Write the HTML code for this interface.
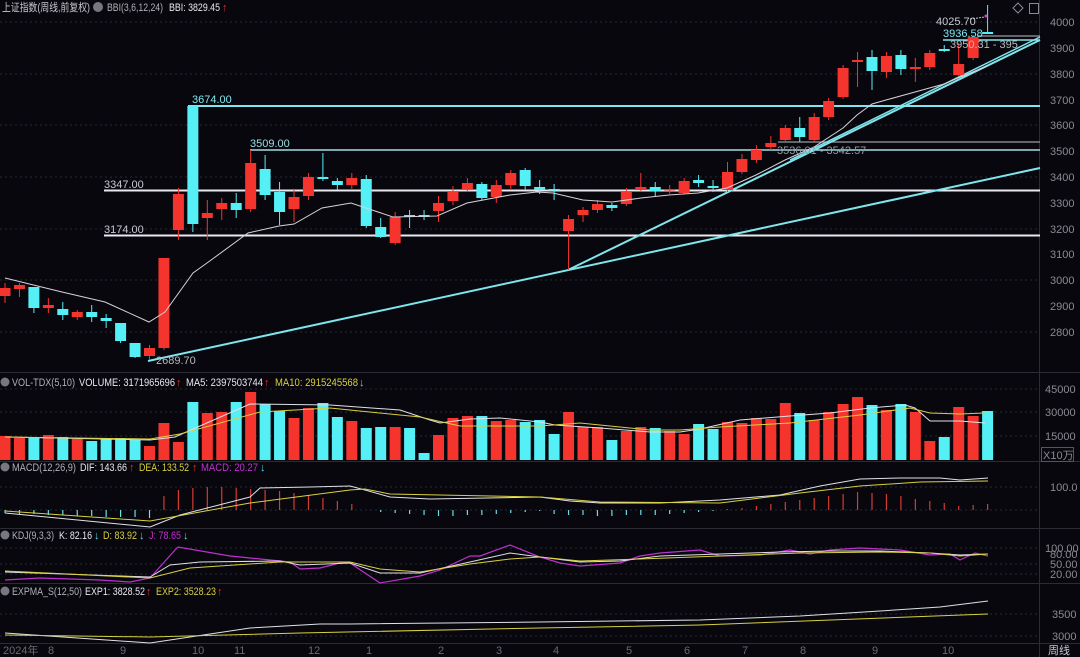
<!DOCTYPE html>
<html><head><meta charset="utf-8"><style>
html,body{margin:0;padding:0;background:#07070d;}
svg{display:block;font-family:"Liberation Sans","Noto Sans CJK SC",sans-serif;}
</style></head><body>
<svg id="s" width="1080" height="657" viewBox="0 0 1080 657" xmlns="http://www.w3.org/2000/svg">
<rect width="1080" height="657" fill="#07070d"/>
<g id="grid" stroke="#2a2a33" stroke-dasharray="2,3" stroke-width="1">
<line x1="0" y1="22" x2="1040" y2="22"/><line x1="0" y1="74" x2="1040" y2="74"/><line x1="0" y1="125" x2="1040" y2="125"/>
<line x1="0" y1="177" x2="1040" y2="177"/><line x1="0" y1="229" x2="1040" y2="229"/><line x1="0" y1="280" x2="1040" y2="280"/><line x1="0" y1="332" x2="1040" y2="332"/>
<line x1="0" y1="412" x2="1040" y2="412"/><line x1="0" y1="436" x2="1040" y2="436"/><line x1="0" y1="389" x2="1040" y2="389"/>
<line x1="0" y1="487" x2="1040" y2="487"/><line x1="0" y1="510" x2="1040" y2="510"/>
<line x1="0" y1="548" x2="1040" y2="548"/><line x1="0" y1="564" x2="1040" y2="564"/><line x1="0" y1="574" x2="1040" y2="574"/>
<line x1="0" y1="614" x2="1040" y2="614"/><line x1="0" y1="636" x2="1040" y2="636"/>
</g>
<g stroke="#2c2c36" stroke-width="1">
<line x1="0" y1="372.5" x2="1080" y2="372.5"/><line x1="0" y1="461.5" x2="1080" y2="461.5"/>
<line x1="0" y1="528.5" x2="1080" y2="528.5"/><line x1="0" y1="583.5" x2="1080" y2="583.5"/>
<line x1="0" y1="643.5" x2="1080" y2="643.5"/><line x1="1039.5" y1="0" x2="1039.5" y2="657"/>
</g>
<g stroke-width="2">
<line x1="188" y1="106" x2="1040" y2="106" stroke="#7fe6ee"/>
<line x1="250" y1="150" x2="1040" y2="150" stroke="#9fdde6" stroke-width="1.5"/>
<line x1="104" y1="190.5" x2="1040" y2="190.5" stroke="#e8e8ee"/>
<line x1="104" y1="235.5" x2="1040" y2="235.5" stroke="#e8e8ee"/>
<line x1="778" y1="142" x2="1040" y2="142" stroke="#9a9aa2" stroke-width="1.2"/>
<line x1="943" y1="40" x2="1040" y2="40" stroke="#7fe6ee" stroke-width="1.5"/>
<line x1="977" y1="36" x2="1040" y2="36" stroke="#9a9aa2" stroke-width="1.2"/>
<line x1="148" y1="361" x2="1040" y2="168" stroke="#7fe6ee"/>
<line x1="568" y1="270" x2="1040" y2="40" stroke="#7fe6ee"/>
<line x1="790" y1="160" x2="1040" y2="37" stroke="#7fe6ee" stroke-width="1.5"/>
</g>
<g id="candles"></g>
<polyline fill="none" stroke="#d8d0d8" stroke-width="1" points="5,278 62,292 105,302 149,322 165,312 193,273 207,263 248,233 279,226 294,224 322,208 351,203 393,217 437,216 467,203 510,195 537,192 553,193 583,200 612,202 641,198 669,195 698,193 727,188 756,175 785,160 814,147 843,128 857,115 872,104 886,100 915,92 944,84 958,78 987,66"/>
<g font-size="11" fill="#c8c8d0">
<text x="192" y="103" fill="#7fe6ee">3674.00</text>
<text x="250" y="147" fill="#9fdde6">3509.00</text>
<text x="104" y="188">3347.00</text>
<text x="104" y="233">3174.00</text>
<text x="156" y="364" fill="#b8b8c0">2689.70</text>
<text x="777" y="154" fill="#9a9aa2">3536.01 - 3542.57</text>
<text x="936" y="25">4025.70</text>
<line x1="970" y1="19" x2="985" y2="17" stroke="#c8c8d0" stroke-dasharray="2,1"/>
<circle cx="986" cy="16" r="1.5" fill="#d040d0"/>
<text x="943" y="37" fill="#7fe6ee">3936.58</text>
<text x="950" y="48" fill="#b8b8c0">3950.31 - 395</text>
</g>
<g font-size="11" fill="#8a8a92">
<text x="1050" y="26">4000</text><text x="1050" y="52">3900</text><text x="1050" y="78">3800</text><text x="1050" y="104">3700</text>
<text x="1050" y="129">3600</text><text x="1050" y="155">3500</text><text x="1050" y="181">3400</text><text x="1050" y="207">3300</text>
<text x="1050" y="233">3200</text><text x="1050" y="258">3100</text><text x="1050" y="284">3000</text><text x="1050" y="310">2900</text><text x="1050" y="336">2800</text>
<text x="1045" y="393">45000</text><text x="1045" y="416">30000</text><text x="1045" y="440">15000</text>
<rect x="1041.5" y="447.5" width="32" height="14" fill="none" stroke="#55555d"/>
<text x="1043" y="459">X10万</text>
<text x="1050" y="491">100.0</text>
<text x="1045" y="552">100.00</text><text x="1050" y="558">80.00</text><text x="1050" y="568">50.00</text><text x="1050" y="578">20.00</text>
<text x="1052" y="618">3500</text><text x="1052" y="640">3000</text>
<text x="1048" y="654" fill="#c8c8d0">周线</text>
</g>
<g fill="none" stroke="#8a8a92"><path d="M1018 3 L1023 8 L1018 13 L1013 8 Z"/><rect x="1029.5" y="3.5" width="9" height="10"/></g>
<g id="vol"></g>
<polyline fill="none" stroke="#e0e0e8" stroke-width="1" points="5,437 150,440 175,437 250,404 330,405 400,410 430,420 440,423 470,419 500,418 540,422 555,425 600,428 650,432 680,432 700,429 740,420 790,416 830,413 870,408 905,405 915,408 930,421 960,421 985,423"/>
<polyline fill="none" stroke="#d8d040" stroke-width="1" points="5,437 150,439 180,434 260,412 330,408 420,417 460,426 540,426 580,423 650,430 680,430 720,427 790,423 860,415 910,408 930,413 960,414 985,413"/>
<g id="macd"></g>
<polyline fill="none" stroke="#e0e0e8" stroke-width="1" points="5,513 150,527 180,515 250,497 260,488 310,487 350,486 365,490 390,497 430,499 540,497 570,501 600,503 660,503 720,500 780,495 820,486 860,479 900,478 940,478 960,480 988,478"/>
<polyline fill="none" stroke="#d8d040" stroke-width="1" points="5,511 150,521 250,503 350,490 365,489 390,494 540,497 600,502 720,503 800,493 860,486 920,482 988,481"/>
<polyline fill="none" stroke="#c030d0" stroke-width="1.2" points="5,580 40,578 100,580 130,582 150,578 175,550 178,547 230,556 250,558 290,562 300,569 320,568 340,563 350,563 380,583 420,576 440,570 470,556 480,556 510,545 540,557 560,563 580,566 620,563 640,556 660,553 700,550 720,556 760,555 790,550 810,554 830,550 860,548 900,550 930,555 950,554 960,560 975,553 988,556"/>
<polyline fill="none" stroke="#e0e0e8" stroke-width="1" points="5,572 150,577 170,565 200,562 280,561 300,565 350,563 380,573 420,573 470,562 510,553 540,557 580,562 620,561 660,556 720,554 780,552 830,551 880,551 930,553 960,555 988,554"/>
<polyline fill="none" stroke="#d8d040" stroke-width="1" points="5,571 150,578 190,568 280,562 350,562 380,569 420,572 470,564 510,559 540,557 580,561 640,559 720,556 800,553 880,552 930,553 960,556 988,554"/>
<polyline fill="none" stroke="#e0e0e8" stroke-width="1" points="5,633 150,643 250,628 320,624 350,624 540,622 700,620 800,616 880,611 940,607 988,601"/>
<polyline fill="none" stroke="#d8d040" stroke-width="1" points="5,635 150,637 300,633 540,628 700,625 988,614"/>
<g font-size="11" lengthAdjust="spacingAndGlyphs">
<text x="2" y="11" fill="#c8c8d0" textLength="88" lengthAdjust="spacingAndGlyphs">上证指数(周线,前复权)</text>
<circle cx="98" cy="7" r="5" fill="#77777f"/>
<text x="107" y="11" fill="#b0b0b8" textLength="56" lengthAdjust="spacingAndGlyphs">BBI(3,6,12,24)</text>
<text x="169" y="11" fill="#e8e8ee" textLength="51" lengthAdjust="spacingAndGlyphs">BBI: 3829.45</text><text x="222" y="11" fill="#e03030">↑</text>
<circle cx="5" cy="382" r="4.5" fill="#77777f"/>
<text x="12" y="386" fill="#b0b0b8" textLength="63" lengthAdjust="spacingAndGlyphs">VOL-TDX(5,10)</text>
<text x="79" y="386" fill="#e8e8ee" textLength="96" lengthAdjust="spacingAndGlyphs">VOLUME: 3171965696</text><text x="176" y="386" fill="#e03030">↑</text>
<text x="186" y="386" fill="#e8e8ee" textLength="77" lengthAdjust="spacingAndGlyphs">MA5: 2397503744</text><text x="264" y="386" fill="#e03030">↑</text>
<text x="275" y="386" fill="#d8d040" textLength="83" lengthAdjust="spacingAndGlyphs">MA10: 2915245568</text><text x="359" y="386" fill="#50e0e8">↓</text>
<circle cx="5" cy="467" r="4.5" fill="#77777f"/>
<text x="12" y="471" fill="#b0b0b8" textLength="64" lengthAdjust="spacingAndGlyphs">MACD(12,26,9)</text>
<text x="80" y="471" fill="#e8e8ee" textLength="47" lengthAdjust="spacingAndGlyphs">DIF: 143.66</text><text x="129" y="471" fill="#e03030">↑</text>
<text x="139" y="471" fill="#d8d040" textLength="50" lengthAdjust="spacingAndGlyphs">DEA: 133.52</text><text x="192" y="471" fill="#e03030">↑</text>
<text x="201" y="471" fill="#c030d0" textLength="57" lengthAdjust="spacingAndGlyphs">MACD: 20.27</text><text x="260" y="471" fill="#50e0e8">↓</text>
<circle cx="5" cy="535" r="4.5" fill="#77777f"/>
<text x="12" y="539" fill="#b0b0b8" textLength="42" lengthAdjust="spacingAndGlyphs">KDJ(9,3,3)</text>
<text x="59" y="539" fill="#e8e8ee" textLength="33" lengthAdjust="spacingAndGlyphs">K: 82.16</text><text x="94" y="539" fill="#50e0e8">↓</text>
<text x="103" y="539" fill="#d8d040" textLength="34" lengthAdjust="spacingAndGlyphs">D: 83.92</text><text x="139" y="539" fill="#50e0e8">↓</text>
<text x="149" y="539" fill="#c030d0" textLength="32" lengthAdjust="spacingAndGlyphs">J: 78.65</text><text x="183" y="539" fill="#50e0e8">↓</text>
<circle cx="5" cy="591" r="4.5" fill="#77777f"/>
<text x="12" y="595" fill="#b0b0b8" textLength="70" lengthAdjust="spacingAndGlyphs">EXPMA_S(12,50)</text>
<text x="85" y="595" fill="#e8e8ee" textLength="60" lengthAdjust="spacingAndGlyphs">EXP1: 3828.52</text><text x="146" y="595" fill="#e03030">↑</text>
<text x="156" y="595" fill="#d8d040" textLength="60" lengthAdjust="spacingAndGlyphs">EXP2: 3528.23</text><text x="217" y="595" fill="#e03030">↑</text>
</g>
<g font-size="11" fill="#6a6a72">
<text x="3" y="654">2024年</text><text x="48" y="654">8</text><text x="120" y="654">9</text><text x="192" y="654">10</text>
<text x="234" y="654">11</text><text x="308" y="654">12</text><text x="366" y="654">1</text><text x="438" y="654">2</text>
<text x="496" y="654">3</text><text x="553" y="654">4</text><text x="626" y="654">5</text><text x="684" y="654">6</text>
<text x="742" y="654">7</text><text x="800" y="654">8</text><text x="872" y="654">9</text><text x="942" y="654">10</text>
</g>
</svg>
<script>
var R="#f5352d",C="#55f0f5",NS="http://www.w3.org/2000/svg";
function el(p,t,a){var e=document.createElementNS(NS,t);for(var k in a)e.setAttribute(k,a[k]);p.appendChild(e);return e;}
var cd=[["r",288,296,283,303],["r",285,289,283,297],["c",287,308,287,313],["r",305,308,298,313],["c",309,315,302,320],["r",312,317,310,320],["c",312,317,305,322],["c",318,321,314,328],["c",323,341,323,343],["c",343,357,343,358],["r",348,356,345,360],["r",258,348,258,350],["r",194,230,188,240],["c",106,224,106,232],["r",213,218,200,240],["r",203,209,198,220],["c",203,210,193,218],["r",163,209,150,212],["c",169,195,155,200],["c",192,212,182,225],["r",197,209,190,222],["r",177,196,173,200],["c",177,179,153,181],["c",181,185,178,190],["r",178,185,173,190],["c",179,226,175,228],["c",227,237,218,238],["r",217,243,212,245],["c",215,217,210,228],["c",215,217,210,220],["r",203,211,196,222],["r",192,201,186,205],["r",183,189,178,192],["c",184,198,182,200],["r",185,197,180,203],["r",173,185,170,190],["c",170,186,168,190],["c",187,190,180,194],["c",189,190,184,200],["r",219,231,215,270],["r",210,215,207,222],["r",204,210,200,213],["c",205,208,203,211],["r",192,204,188,206],["r",187,190,173,191],["c",187,191,182,196],["r",189,190,185,194],["r",181,193,178,194],["c",180,183,175,187],["c",186,188,180,192],["r",172,190,162,192],["r",159,172,154,174],["r",150,160,145,163],["r",143,147,136,150],["r",128,140,125,142],["c",128,137,117,142],["r",117,140,113,142],["r",101,117,98,120],["r",68,97,65,99],["r",60,62,52,87],["c",57,71,50,90],["r",56,72,52,78],["c",55,69,50,75],["r",67,69,58,82],["r",53,67,50,70],["c",49,51,45,52],["r",64,75,43,76],["r",37,58,35,60],["c",32,34,5,34]];
var g=document.getElementById("candles");
cd.forEach(function(d,i){var x=5+i*14.45,col=d[0]=="r"?R:C;
el(g,"line",{x1:x,x2:x,y1:d[3],y2:d[4],stroke:col,"stroke-width":1});
var h=Math.max(d[2]-d[1],1.5);el(g,"rect",{x:x-5.5,y:d[1],width:11,height:h,fill:col});});
var vt=[436,438,437,435,437,439,441,438,438,440,446,423,442,402,413,412,402,392,404,411,418,408,403,417,421,428,427,427,428,453,435,418,416,416,421,420,422,420,434,412,427,427,440,431,427,428,431,434,424,429,422,423,418,419,403,413,420,412,404,397,405,410,404,412,441,437,407,416,411];
var vc="rrcrcrccccrrrcrrcrccrrccrccrccrrrcrrcccrrrcrrcrrccrrrrrcrrrrcrcrrcrrc";
var gv=document.getElementById("vol"),gm=document.getElementById("macd");
vt.forEach(function(t,i){var x=5+i*14.45;el(gv,"rect",{x:x-5.5,y:t,width:11,height:460-t,fill:vc[i]=="r"?R:C});});
var mh=[3,4,4,5,5,6,6,7,7,7,8,-14,-20,-22,-23,-23,-22,-21,-20,-19,-17,-15,-12,-9,-6,0,2,3,4,5,6,6,5,5,4,3,2,1,4,5,5,6,6,5,5,5,4,3,2,1,-1,-2,-4,-6,-8,-10,-12,-14,-16,-18,-17,-16,-14,-11,-9,-7,-4,-5,-6];
mh.forEach(function(h,i){var x=5+i*14.45;if(h==0)return;
el(gm,"line",{x1:x,x2:x,y1:510,y2:510+h,stroke:h>0?"#6adfe8":"#d83a30","stroke-width":1.2});});
</script>
</body></html>
